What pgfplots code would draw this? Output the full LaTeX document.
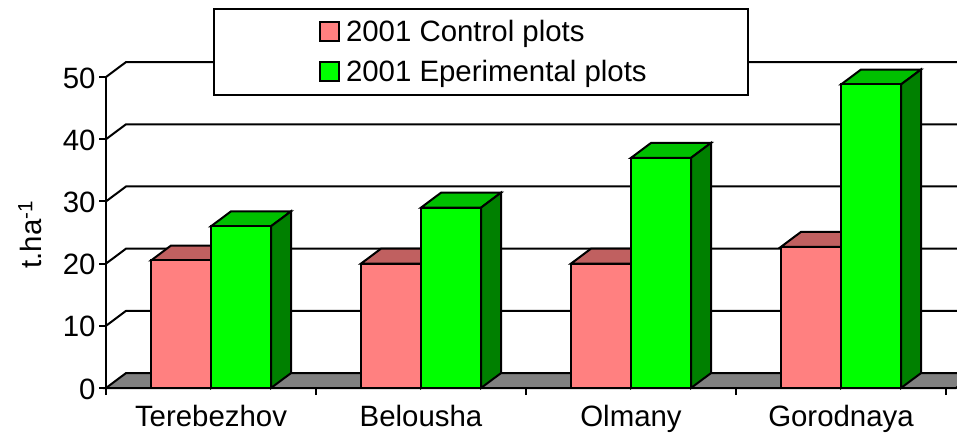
\documentclass[border=0pt]{standalone}
\usepackage{fontspec}
\setmainfont{Liberation Sans}
\usepackage{pgfplots}
\pgfplotsset{compat=1.18}
\definecolor{pinkfront}{HTML}{FF8080}
\definecolor{pinktop}{HTML}{C06060}
\definecolor{greenfront}{HTML}{00FF00}
\definecolor{greentop}{HTML}{00C000}
\definecolor{greenside}{HTML}{008000}

% depth of the 3D look, in axis units: 20 px across, 2.4 t/ha up
\newcommand{\depthx}{20}
\newcommand{\depthy}{2.4}
% top and side of one bar: left x, right x, value, top colour, side colour
\newcommand{\barfaces}[5]{%
  \pgfmathsetmacro\xa{#1+\depthx}%
  \pgfmathsetmacro\xb{#2+\depthx}%
  \pgfmathsetmacro\yb{#3+\depthy}%
  \pgfmathsetmacro\yc{\depthy}%
  \edef\temp{\noexpand\addplot[forget plot,draw=black,fill=#4] coordinates {(#1,#3) (\xa,\yb) (\xb,\yb) (#2,#3)} -- cycle;
    \noexpand\addplot[forget plot,draw=black,fill=#5] coordinates {(#2,0) (#2,#3) (\xb,\yb) (\xb,\yc)} -- cycle;}%
  \temp}
\newcommand{\wall}[1]{%
  \pgfmathsetmacro\yb{#1+\depthy}%
  \edef\temp{\noexpand\addplot[forget plot,black] coordinates {(0,#1) (\depthx,\yb) (870,\yb)};}%
  \temp}

\begin{document}
\begin{tikzpicture}[font=\fontsize{29.4}{32}\selectfont,line width=2pt]
\path[clip,use as bounding box] (0pt,0pt) rectangle (957pt,432pt);
\begin{axis}[
  at={(106pt,44pt)},anchor=south west,
  scale only axis,
  width=851pt,height=326.55pt,
  xmin=0,xmax=851,ymin=0,ymax=52.5,
  clip=false,
  axis line style={draw=none},
  every axis plot/.append style={line width=2pt},
  xtick={0,210,420,630,840},
  x tick label as interval,
  xticklabels={Terebezhov,Belousha,Olmany,Gorodnaya},
  ytick={0,10,20,30,40,50},
  xtick pos=bottom,ytick pos=left,
  tick align=outside,
  major tick length=7pt,
  tick style={black,line width=2pt},
  /pgf/number format/assume math mode=true,
  ylabel={t.ha\textsuperscript{-1}},
  ylabel style={at={(axis description cs:0,0.47)},anchor=center,yshift=76pt},
  yticklabel style={yshift=-1pt},
  xticklabel style={yshift=-7pt},
  legend style={at={(axis cs:107,61.1)},anchor=north west,draw=black,line width=2pt,
    inner xsep=105pt,inner ysep=9.5pt,row sep=13pt,fill=white,
    /tikz/column 1/.style={column sep=4pt}},
  legend cell align=left,
  legend image code/.code={\draw[#1,line width=2pt] (0pt,-9.5pt) rectangle (19pt,9.5pt);},
]
% floor and back wall
\addplot[forget plot,draw=black,fill=gray] coordinates {(0,0) (20,2.4) (870,2.4) (850,0)} -- cycle;
\wall{10}\wall{20}\wall{30}\wall{40}\wall{50}

% control plots
\barfaces{45}{105}{20.5}{pinktop}{pinktop}
\barfaces{255}{315}{20}{pinktop}{pinktop}
\barfaces{465}{525}{20}{pinktop}{pinktop}
\barfaces{675}{735}{22.7}{pinktop}{pinktop}
\addplot[ybar,bar width=60,bar shift=-30,draw=black,fill=pinkfront] coordinates {
  (105,20.5) (315,20) (525,20) (735,22.7)};
\addlegendentry{2001 Control plots}

% experimental plots
\barfaces{105}{165}{26}{greentop}{greenside}
\barfaces{315}{375}{29}{greentop}{greenside}
\barfaces{525}{585}{37}{greentop}{greenside}
\barfaces{735}{795}{48.8}{greentop}{greenside}
\addplot[ybar,bar width=60,bar shift=30,draw=black,fill=greenfront] coordinates {
  (105,26) (315,29) (525,37) (735,48.8)};
\addlegendentry{2001 Eperimental plots\hspace*{-6pt}}

% front axis lines
\addplot[forget plot,black] coordinates {(0,50) (0,0) (840,0)};
\end{axis}
\end{tikzpicture}
\end{document}
